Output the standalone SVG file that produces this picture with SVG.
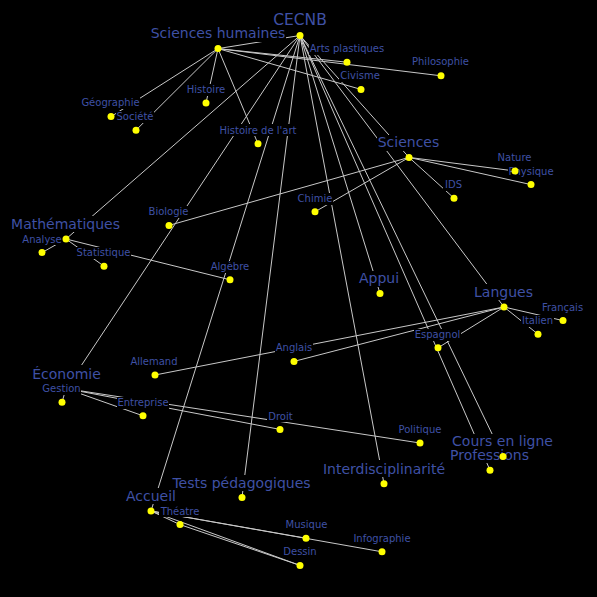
<svg xmlns="http://www.w3.org/2000/svg" width="597" height="597" viewBox="0 0 597 597">
<style>
.bg{fill:#000}
.e line{stroke:#c8c8c8;stroke-width:1}
.box{fill:#000}
.s{font-family:"DejaVu Sans",Verdana,sans-serif;font-size:10px;fill:#3f51a5;text-anchor:middle}
.l{font-family:"DejaVu Sans",Verdana,sans-serif;font-size:14px;fill:#3f51a5;text-anchor:middle}
.d{fill:#ffff00}
</style>
<rect class="bg" x="0" y="0" width="597" height="597"/>
<g id="connectors" class="e">
<line x1="300" y1="35.5" x2="218" y2="48.6"/>
<line x1="300" y1="35.5" x2="409" y2="157.4"/>
<line x1="300" y1="35.5" x2="66" y2="239"/>
<line x1="300" y1="35.5" x2="380" y2="293.4"/>
<line x1="300" y1="35.5" x2="504" y2="307"/>
<line x1="300" y1="35.5" x2="66" y2="388.6"/>
<line x1="300" y1="35.5" x2="503" y2="456.6"/>
<line x1="300" y1="35.5" x2="490" y2="470.2"/>
<line x1="300" y1="35.5" x2="384" y2="483.8"/>
<line x1="300" y1="35.5" x2="242" y2="497.4"/>
<line x1="300" y1="35.5" x2="151" y2="511"/>
<line x1="218" y1="48.6" x2="347" y2="62.2"/>
<line x1="218" y1="48.6" x2="441" y2="75.8"/>
<line x1="218" y1="48.6" x2="361" y2="89.4"/>
<line x1="218" y1="48.6" x2="206" y2="103"/>
<line x1="218" y1="48.6" x2="111" y2="116.6"/>
<line x1="218" y1="48.6" x2="136" y2="130.2"/>
<line x1="218" y1="48.6" x2="258" y2="143.8"/>
<line x1="409" y1="157.4" x2="515" y2="171"/>
<line x1="409" y1="157.4" x2="531" y2="184.6"/>
<line x1="409" y1="157.4" x2="454" y2="198.2"/>
<line x1="409" y1="157.4" x2="315" y2="211.8"/>
<line x1="409" y1="157.4" x2="169" y2="225.4"/>
<line x1="66" y1="239" x2="42" y2="252.6"/>
<line x1="66" y1="239" x2="104" y2="266.2"/>
<line x1="66" y1="239" x2="230" y2="279.8"/>
<line x1="504" y1="307" x2="563" y2="320.6"/>
<line x1="504" y1="307" x2="538" y2="334.2"/>
<line x1="504" y1="307" x2="438" y2="347.8"/>
<line x1="504" y1="307" x2="294" y2="361.4"/>
<line x1="504" y1="307" x2="155" y2="375"/>
<line x1="66" y1="388.6" x2="62" y2="402.2"/>
<line x1="66" y1="388.6" x2="143" y2="415.8"/>
<line x1="66" y1="388.6" x2="280" y2="429.4"/>
<line x1="66" y1="388.6" x2="420" y2="443"/>
<line x1="151" y1="511" x2="180" y2="524.6"/>
<line x1="151" y1="511" x2="306" y2="538.2"/>
<line x1="151" y1="511" x2="382" y2="551.8"/>
<line x1="151" y1="511" x2="300" y2="565.4"/>
<line x1="180" y1="524.6" x2="300" y2="565.4"/>
</g>
<g id="n-cecnb"><rect class="box" x="272" y="12" width="57" height="17"/><text class="l" x="300" y="25" style="font-size:15.5px">CECNB</text><circle class="d" cx="300" cy="35.5" r="3.5"/></g>
<g id="n-sciences-humaines"><rect class="box" x="150" y="26" width="136" height="16"/><text class="l" x="218" y="38">Sciences humaines</text><circle class="d" cx="218" cy="48.6" r="3.5"/></g>
<g id="n-arts-plastiques"><rect class="box" x="309" y="43" width="75" height="12"/><text class="s" x="347" y="52">Arts plastiques</text><circle class="d" cx="347" cy="62.2" r="3.5"/></g>
<g id="n-philosophie"><rect class="box" x="411" y="56" width="58" height="12"/><text class="s" x="440.5" y="65">Philosophie</text><circle class="d" cx="441" cy="75.8" r="3.5"/></g>
<g id="n-civisme"><rect class="box" x="339" y="70" width="41" height="12"/><text class="s" x="360" y="79">Civisme</text><circle class="d" cx="361" cy="89.4" r="3.5"/></g>
<g id="n-histoire"><rect class="box" x="186" y="84" width="40" height="12"/><text class="s" x="206" y="93">Histoire</text><circle class="d" cx="206" cy="103" r="3.5"/></g>
<g id="n-geographie"><rect class="box" x="81" y="97" width="59" height="12"/><text class="s" x="110.5" y="106">Géographie</text><circle class="d" cx="111" cy="116.6" r="3.5"/></g>
<g id="n-societe"><rect class="box" x="116" y="111" width="38" height="12"/><text class="s" x="135" y="120">Société</text><circle class="d" cx="136" cy="130.2" r="3.5"/></g>
<g id="n-histoire-art"><rect class="box" x="218" y="124" width="80" height="12"/><text class="s" x="258" y="133.5">Histoire de l'art</text><circle class="d" cx="258" cy="143.8" r="3.5"/></g>
<g id="n-sciences"><rect class="box" x="377" y="135" width="62" height="16"/><text class="l" x="408.5" y="147">Sciences</text><circle class="d" cx="409" cy="157.4" r="3.5"/></g>
<g id="n-physique"><rect class="box" x="508" y="165" width="46" height="12"/><text class="s" x="531" y="174.5">Physique</text><circle class="d" cx="531" cy="184.6" r="3.5"/></g>
<g id="n-nature"><rect class="box" x="497" y="152" width="35" height="12"/><text class="s" x="514.5" y="161">Nature</text><circle class="d" cx="515" cy="171" r="3.5"/></g>
<g id="n-ids"><rect class="box" x="443" y="179" width="21" height="12"/><text class="s" x="453.5" y="188">IDS</text><circle class="d" cx="454" cy="198.2" r="3.5"/></g>
<g id="n-chimie"><rect class="box" x="297" y="193" width="36" height="12"/><text class="s" x="315" y="202">Chimie</text><circle class="d" cx="315" cy="211.8" r="3.5"/></g>
<g id="n-biologie"><rect class="box" x="148" y="206" width="41" height="12"/><text class="s" x="168.5" y="215">Biologie</text><circle class="d" cx="169" cy="225.4" r="3.5"/></g>
<g id="n-analyse"><rect class="box" x="21" y="233" width="42" height="12"/><text class="s" x="42" y="242.5">Analyse</text><circle class="d" cx="42" cy="252.6" r="3.5"/></g>
<g id="n-mathematiques"><rect class="box" x="11" y="216" width="109" height="16"/><text class="l" x="65.5" y="228.5">Mathématiques</text><circle class="d" cx="66" cy="239" r="3.5"/></g>
<g id="n-statistique"><rect class="box" x="76" y="247" width="55" height="12"/><text class="s" x="103.5" y="256">Statistique</text><circle class="d" cx="104" cy="266.2" r="3.5"/></g>
<g id="n-algebre"><rect class="box" x="210" y="261" width="40" height="12"/><text class="s" x="230" y="270">Algèbre</text><circle class="d" cx="230" cy="279.8" r="3.5"/></g>
<g id="n-appui"><rect class="box" x="358" y="271" width="42" height="16"/><text class="l" x="379" y="283">Appui</text><circle class="d" cx="380" cy="293.4" r="3.5"/></g>
<g id="n-langues"><rect class="box" x="474" y="284" width="59" height="16"/><text class="l" x="503.5" y="296.5">Langues</text><circle class="d" cx="504" cy="307" r="3.5"/></g>
<g id="n-francais"><rect class="box" x="541" y="301" width="43" height="12"/><text class="s" x="562.5" y="310.5">Français</text><circle class="d" cx="563" cy="320.6" r="3.5"/></g>
<g id="n-italien"><rect class="box" x="521" y="315" width="33" height="12"/><text class="s" x="537.5" y="324">Italien</text><circle class="d" cx="538" cy="334.2" r="3.5"/></g>
<g id="n-espagnol"><rect class="box" x="414" y="329" width="47" height="12"/><text class="s" x="437.5" y="338">Espagnol</text><circle class="d" cx="438" cy="347.8" r="3.5"/></g>
<g id="n-anglais"><rect class="box" x="275" y="342" width="38" height="12"/><text class="s" x="294" y="351">Anglais</text><circle class="d" cx="294" cy="361.4" r="3.5"/></g>
<g id="n-allemand"><rect class="box" x="130" y="356" width="48" height="12"/><text class="s" x="154" y="365">Allemand</text><circle class="d" cx="155" cy="375" r="3.5"/></g>
<g id="n-economie"><rect class="box" x="32" y="365" width="69" height="18"/><text class="l" x="66.5" y="379">Économie</text><circle class="d" cx="66" cy="388.6" r="3.5"/></g>
<g id="n-gestion"><rect class="box" x="42" y="383" width="39" height="12"/><text class="s" x="61.5" y="392">Gestion</text><circle class="d" cx="62" cy="402.2" r="3.5"/></g>
<g id="n-entreprise"><rect class="box" x="117" y="397" width="52" height="12"/><text class="s" x="143" y="406">Entreprise</text><circle class="d" cx="143" cy="415.8" r="3.5"/></g>
<g id="n-droit"><rect class="box" x="267" y="410" width="27" height="12"/><text class="s" x="280.5" y="419.5">Droit</text><circle class="d" cx="280" cy="429.4" r="3.5"/></g>
<g id="n-politique"><rect class="box" x="398" y="424" width="44" height="12"/><text class="s" x="420" y="433">Politique</text><circle class="d" cx="420" cy="443" r="3.5"/></g>
<g id="n-professions"><rect class="box" x="449" y="448" width="81" height="15"/><text class="l" x="489.5" y="459.5">Professions</text><circle class="d" cx="490" cy="470.2" r="3.5"/></g>
<g id="n-cours-en-ligne"><rect class="box" x="451" y="434" width="103" height="14"/><text class="l" x="502.5" y="446">Cours en ligne</text><circle class="d" cx="503" cy="456.6" r="3.5"/></g>
<g id="n-interdisciplinarite"><rect class="box" x="321" y="460" width="126" height="17"/><text class="l" x="384" y="473.5">Interdisciplinarité</text><circle class="d" cx="384" cy="483.8" r="3.5"/></g>
<g id="n-tests-pedagogiques"><rect class="box" x="171" y="475" width="141" height="16"/><text class="l" x="241.5" y="487.5">Tests pédagogiques</text><circle class="d" cx="242" cy="497.4" r="3.5"/></g>
<g id="n-accueil"><rect class="box" x="126" y="488" width="50" height="16"/><text class="l" x="151" y="500.5">Accueil</text><circle class="d" cx="151" cy="511" r="3.5"/></g>
<g id="n-theatre"><rect class="box" x="159" y="505" width="42" height="12"/><text class="s" x="180" y="514.5">Théatre</text><circle class="d" cx="180" cy="524.6" r="3.5"/></g>
<g id="n-musique"><rect class="box" x="285" y="519" width="43" height="12"/><text class="s" x="306.5" y="528">Musique</text><circle class="d" cx="306" cy="538.2" r="3.5"/></g>
<g id="n-infographie"><rect class="box" x="352" y="532" width="60" height="12"/><text class="s" x="382" y="541.5">Infographie</text><circle class="d" cx="382" cy="551.8" r="3.5"/></g>
<g id="n-dessin"><rect class="box" x="282" y="546" width="36" height="12"/><text class="s" x="300" y="555">Dessin</text><circle class="d" cx="300" cy="565.4" r="3.5"/></g>
</svg>
